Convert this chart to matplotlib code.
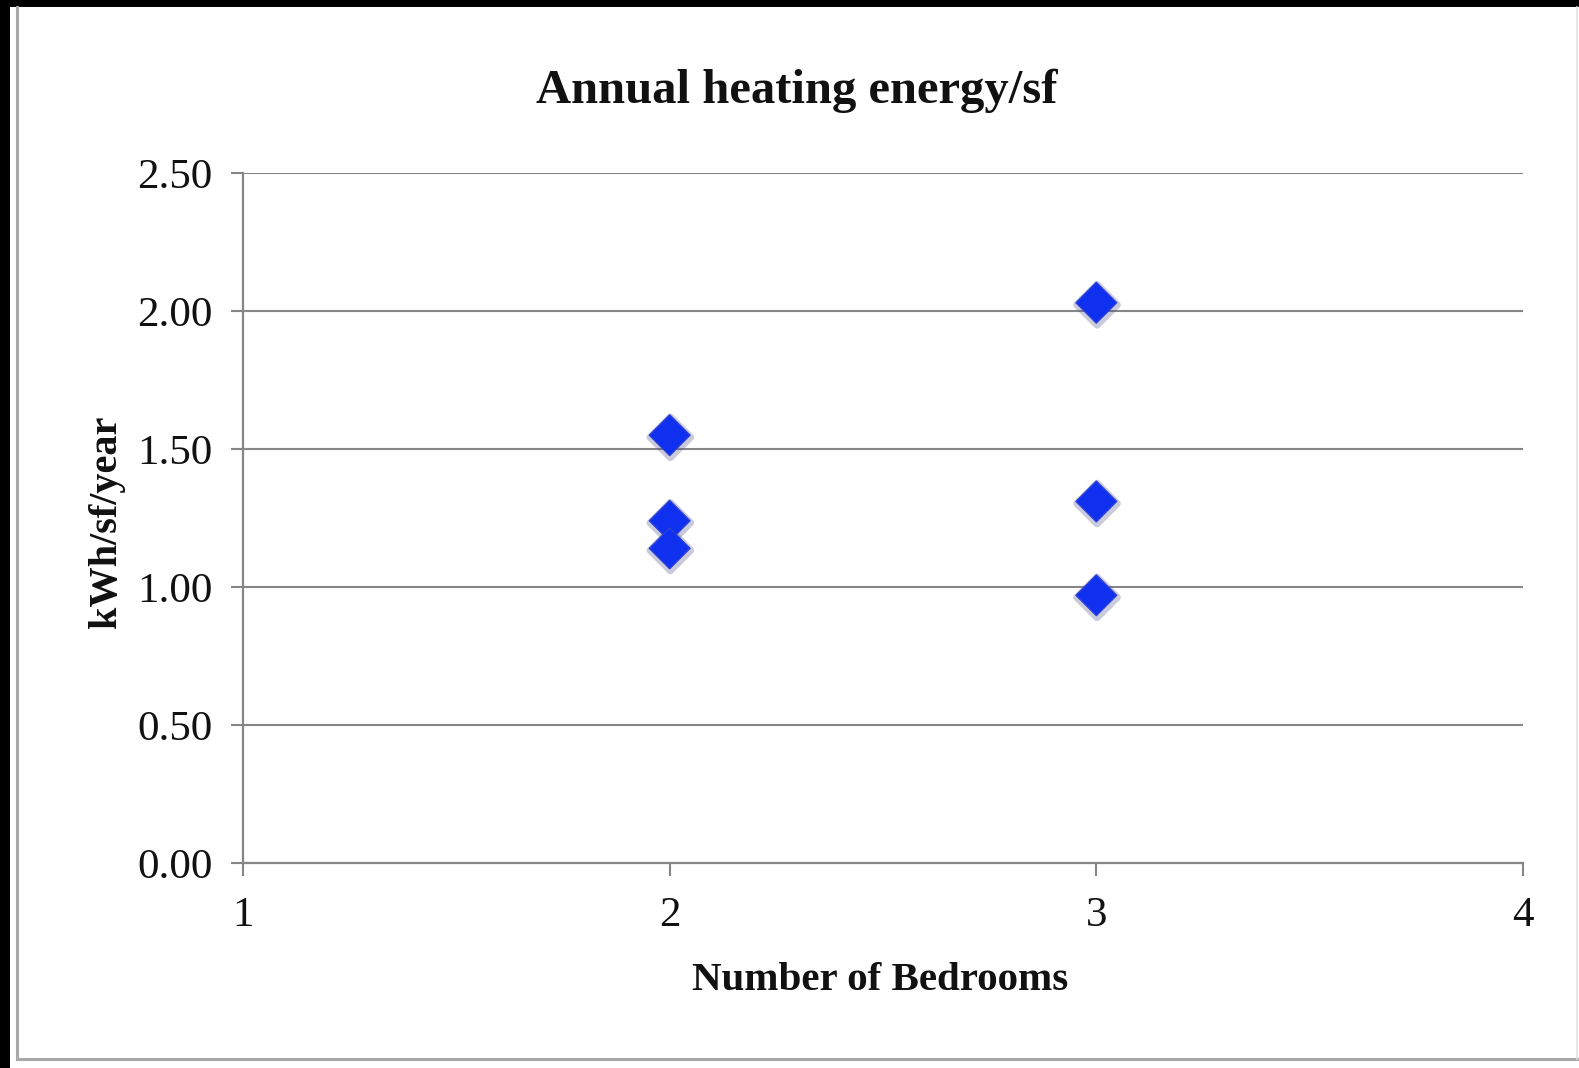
import matplotlib
matplotlib.use("Agg")
import matplotlib.pyplot as plt
from matplotlib.patches import Rectangle
from matplotlib.lines import Line2D
import matplotlib.patheffects as pe

# Data
bedrooms = [2, 2, 2, 3, 3, 3]
heating_kwh_sf = [1.55, 1.24, 1.14, 2.03, 1.31, 0.97]
y_ticks = [0.0, 0.5, 1.0, 1.5, 2.0, 2.5]
x_ticks = [1, 2, 3, 4]

plt.rcParams['font.family'] = ['Liberation Serif', 'DejaVu Serif']

W, H = 1579, 1068
fig = plt.figure(figsize=(W / 100, H / 100), dpi=100)
fig.patch.set_facecolor('white')

# Dark margin on the left and top, and the light grey chart frame
fig.add_artist(Rectangle((0, 0), 10 / W, 1, transform=fig.transFigure,
                         facecolor='black', edgecolor='none', zorder=0))
fig.add_artist(Rectangle((0, 1 - 7 / H), 1, 7 / H, transform=fig.transFigure,
                         facecolor='black', edgecolor='none', zorder=0))
fig.add_artist(Line2D([17 / W, 17 / W], [1 - 1059 / H, 1 - 7 / H],
                      transform=fig.transFigure, color='#a8a8a8', lw=2.2))
fig.add_artist(Line2D([17 / W, 1577 / W], [1 - 1059 / H, 1 - 1059 / H],
                      transform=fig.transFigure, color='#a8a8a8', lw=2.2))
fig.add_artist(Line2D([1577 / W, 1577 / W], [1 - 1059 / H, 1 - 7 / H],
                      transform=fig.transFigure, color='#e0e0e0', lw=1.2))

left, right = 243 / W, 1523 / W
bottom, top = 1 - 863 / H, 1 - 173 / H
ax = fig.add_axes([left, bottom, right - left, top - bottom])
ax.set_facecolor('white')

ax.set_xlim(1, 4)
ax.set_ylim(0, 2.5)
ax.set_xticks(x_ticks)
ax.set_yticks(y_ticks)
ax.set_xticklabels([str(v) for v in x_ticks])
ax.set_yticklabels([f"{v:.2f}" for v in y_ticks])

for s in ('top', 'right'):
    ax.spines[s].set_visible(False)
for s in ('left', 'bottom'):
    ax.spines[s].set_color('#868686')
    ax.spines[s].set_linewidth(1.6)

ax.yaxis.grid(True, color='#868686', linewidth=1.5)
ax.xaxis.grid(False)
ax.set_axisbelow(True)

ax.tick_params(axis='both', direction='out', length=9, width=1.5,
               color='#868686', labelsize=31, labelcolor='#111111')
ax.tick_params(axis='y', pad=13)
ax.tick_params(axis='x', pad=15)

# Diamond markers with a soft shadow
ax.scatter(bedrooms, heating_kwh_sf, marker='D', s=430, color='#1030f0',
           edgecolors='#2a3fd8', linewidths=1.0, zorder=3,
           path_effects=[pe.SimpleLineShadow(offset=(0.5, -1.5), shadow_color='#505090',
                                             alpha=0.3, linewidth=5),
                         pe.Normal()])

fig.text(797 / W, 1 - 91 / H, "Annual heating energy/sf",
         ha='center', va='center', fontsize=35, fontweight='bold', color='#111111')
fig.text(880 / W, 1 - 980 / H, "Number of Bedrooms",
         ha='center', va='center', fontsize=29.5, fontweight='bold', color='#111111')
fig.text(107 / W, 1 - 522 / H, "kWh/sf/year", rotation=90,
         ha='center', va='center', fontsize=29, fontweight='bold', color='#111111')

fig.savefig("out.png", dpi=100, facecolor='white')
